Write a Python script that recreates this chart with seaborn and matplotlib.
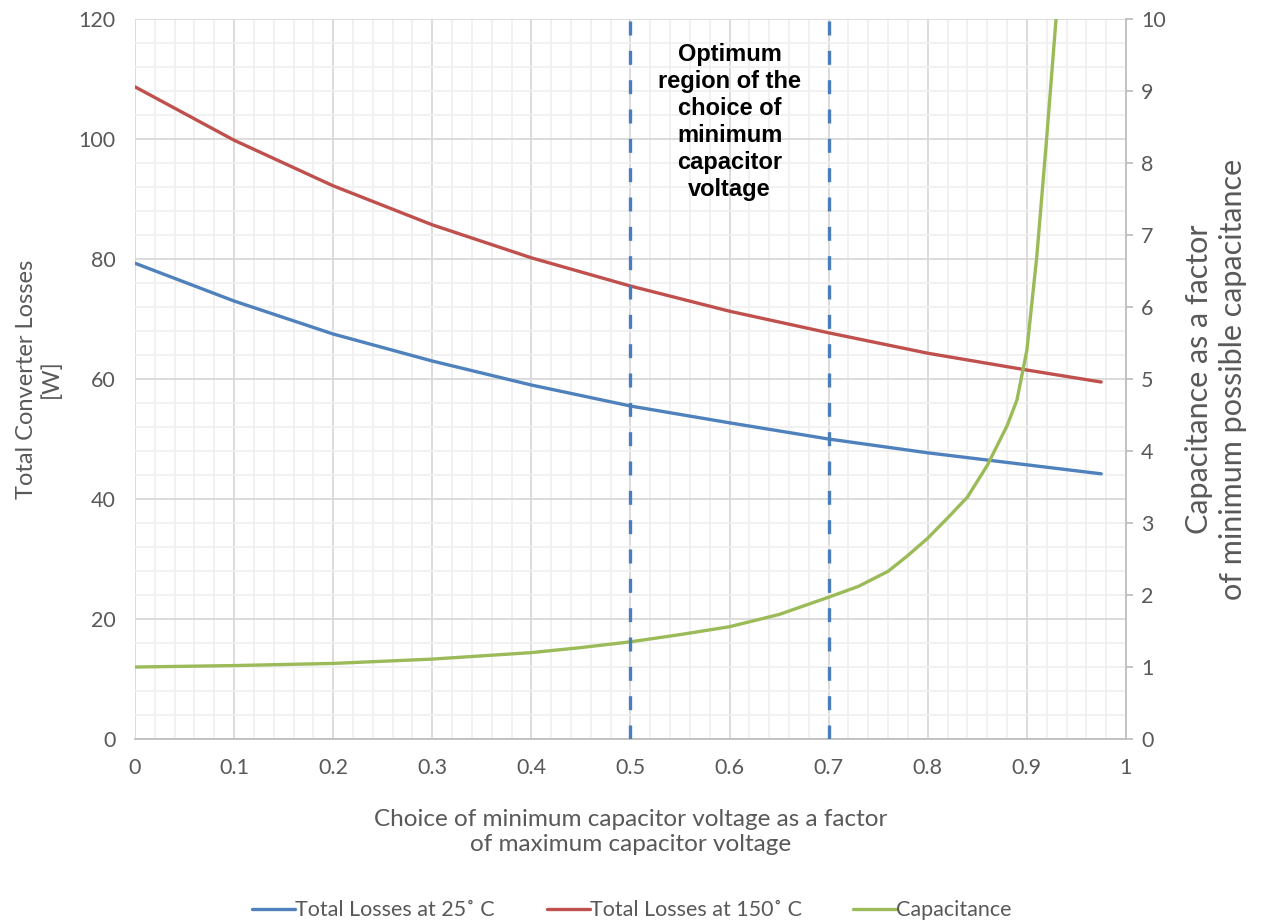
import numpy as np
import pandas as pd
import matplotlib
matplotlib.use("Agg")
import matplotlib.pyplot as plt
from matplotlib.ticker import MultipleLocator
from matplotlib.lines import Line2D
import seaborn as sns

# ---- data ----
x_loss = [0.0, 0.1, 0.2, 0.3, 0.4, 0.5, 0.6, 0.7, 0.8, 0.9, 0.975]
loss_25 = [79.3, 73.0, 67.5, 63.0, 59.0, 55.5, 52.7, 50.0, 47.7, 45.7, 44.2]
loss_150 = [108.7, 99.8, 92.2, 85.7, 80.2, 75.5, 71.3, 67.7, 64.3, 61.5, 59.5]

x_cap = [0.0, 0.1, 0.2, 0.3, 0.4, 0.45, 0.5, 0.55, 0.6, 0.65, 0.7, 0.73, 0.76,
         0.78, 0.8, 0.82, 0.84, 0.86, 0.88, 0.89, 0.9, 0.91, 0.92, 0.93, 0.94]
capacitance = [1.0, 1.02, 1.05, 1.11, 1.2, 1.27, 1.35, 1.45, 1.56, 1.73, 1.97, 2.12,
               2.33, 2.55, 2.79, 3.07, 3.36, 3.8, 4.35, 4.71, 5.4, 6.7, 8.35, 10.1, 12.0]

optimum_bounds = [0.5, 0.7]
series_names = ["Total Losses at 25˚ C", "Total Losses at 150˚ C", "Capacitance"]
colors = ["#4F81BD", "#C0504D", "#9BBB59"]

sns.set_theme(style="white")
plt.rcParams['font.family'] = ['Lato', 'DejaVu Sans']
gray = "#595959"

fig = plt.figure(figsize=(12.64, 9.24), dpi=100)
ax = fig.add_axes([0.1068, 0.2002, 0.7840, 0.7792])
ax2 = ax.twinx()

df_loss = pd.DataFrame({"x": x_loss, "l25": loss_25, "l150": loss_150})
df_cap = pd.DataFrame({"x": x_cap, "cap": capacitance})

sns.lineplot(data=df_loss, x="x", y="l25", ax=ax, color=colors[0], lw=2.4, zorder=3)
sns.lineplot(data=df_loss, x="x", y="l150", ax=ax, color=colors[1], lw=2.4, zorder=3)
sns.lineplot(data=df_cap, x="x", y="cap", ax=ax2, color=colors[2], lw=2.4, zorder=3)

for b in optimum_bounds:
    ax2.axvline(b, color="#4A7EBB", lw=2.4, dashes=(4.2, 4.6), zorder=5)

ax.set_xlim(0, 1)
ax.set_ylim(0, 120)
ax2.set_ylim(0, 10)

ax.xaxis.set_major_locator(MultipleLocator(0.1))
ax.xaxis.set_minor_locator(MultipleLocator(0.02))
ax.yaxis.set_major_locator(MultipleLocator(20))
ax.yaxis.set_minor_locator(MultipleLocator(4))
ax2.yaxis.set_major_locator(MultipleLocator(1))

ax.grid(which="major", color="#D9D9D9", lw=1.3, zorder=0)
ax.grid(which="minor", color="#F0F0F0", lw=1.3, zorder=0)
ax.set_axisbelow(True)
ax2.grid(False)

ax.set_xticklabels(["0" if abs(v) < 1e-9 else ("1" if abs(v - 1) < 1e-9 else f"{v:.1f}")
                    for v in ax.get_xticks()])

for a in (ax, ax2):
    for s in a.spines.values():
        s.set_visible(False)
ax.spines["bottom"].set_visible(True)
ax.spines["bottom"].set_color("#BFBFBF")
ax.spines["bottom"].set_linewidth(1.3)
ax2.spines["right"].set_visible(True)
ax2.spines["right"].set_color("#BFBFBF")
ax2.spines["right"].set_linewidth(1.3)

ax.tick_params(axis="both", which="both", length=0, labelsize=15.5, labelcolor=gray)
ax.tick_params(axis="x", pad=14)
ax.tick_params(axis="y", pad=14)
ax2.tick_params(axis="y", which="major", length=5, width=1.3, color="#BFBFBF",
                direction="out", labelsize=15.5, labelcolor=gray, pad=6)

ax.set_xlabel("Choice of minimum capacitor voltage as a factor\nof maximum capacitor voltage",
              fontsize=17.5, color=gray, labelpad=22, linespacing=1.25)
ax.set_ylabel("Total Converter Losses\n[W]", fontsize=17, color=gray, labelpad=12,
              linespacing=1.2)
ax2.set_ylabel("Capacitance as a factor\nof minimum possible capacitance", fontsize=22,
               color=gray, labelpad=14, linespacing=1.25)

ax.text(0.6, 116.0, "Optimum\nregion of the\nchoice of\nminimum\ncapacitor\nvoltage",
        ha="center", va="top", fontsize=17, fontweight="bold", color="black",
        family=["Liberation Sans", "DejaVu Sans"], linespacing=1.22, zorder=6)

handles = [Line2D([0], [0], color=c, lw=2.4) for c in colors]
fig.legend(handles, series_names, loc="center", bbox_to_anchor=(0.5, 0.015), ncol=3,
           frameon=False, fontsize=15.5, handlelength=2.0, handletextpad=0.0,
           columnspacing=2.4, labelcolor=gray)

fig.savefig("out.png", dpi=100, facecolor="white")
